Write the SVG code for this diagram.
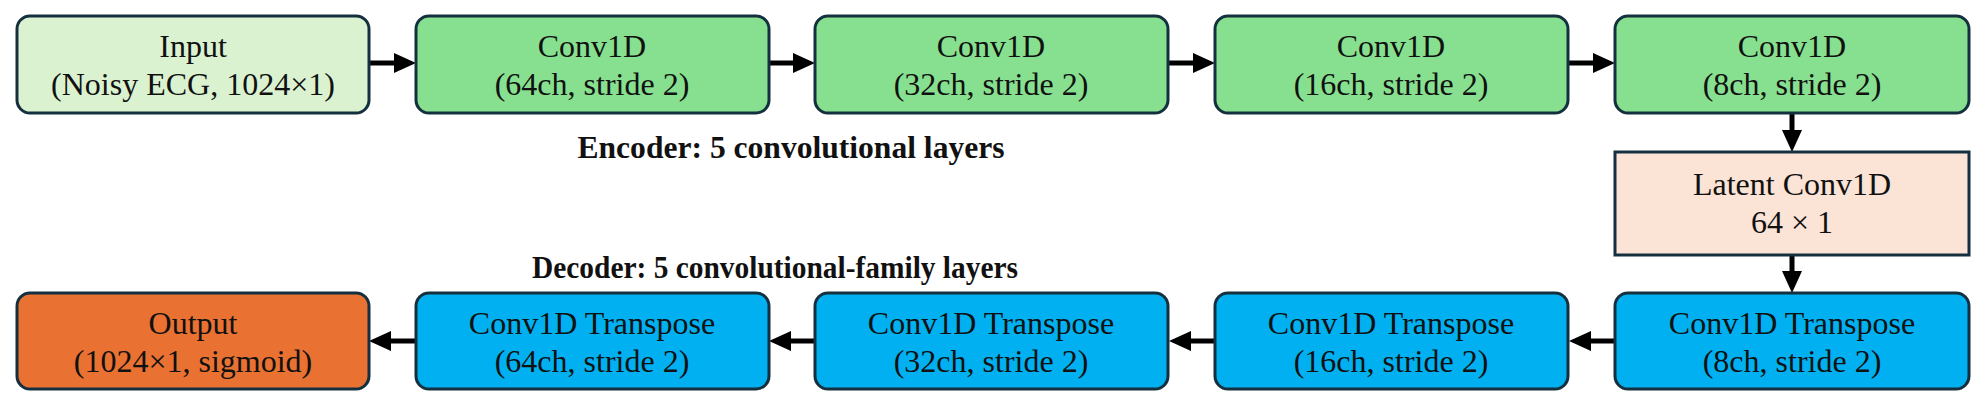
<svg xmlns="http://www.w3.org/2000/svg" width="1986" height="407" viewBox="0 0 1986 407">
<style>
.box{stroke:#14303f;stroke-width:3}
.t{font-family:"Liberation Serif","Times New Roman",serif;font-size:32px;fill:#111;text-anchor:middle}
.lbl{font-family:"Liberation Serif","Times New Roman",serif;font-size:32px;font-weight:bold;fill:#111;text-anchor:middle}
.in{fill:#DAF2D0}.enc{fill:#87E08F}.lat{fill:#FBE3D6}.dec{fill:#00B0F0}.out{fill:#E97132}
.c{stroke:#000;stroke-width:5;fill:none;marker-end:url(#ah)}
</style>
<defs>
<marker id="ah" markerUnits="userSpaceOnUse" markerWidth="22" markerHeight="20" refX="2" refY="10" orient="auto">
<path d="M0,0 L22,10 L0,20 Z" fill="#000"/>
</marker>
</defs>
<rect width="1986" height="407" fill="#fff"/>
<g id="connectors">
<line class="c" x1="369" y1="63" x2="396" y2="63"/>
<line class="c" x1="769" y1="63" x2="795" y2="63"/>
<line class="c" x1="1168" y1="63" x2="1195" y2="63"/>
<line class="c" x1="1568" y1="63" x2="1595" y2="63"/>
<line class="c" x1="1792" y1="113" x2="1792" y2="132"/>
<line class="c" x1="1792" y1="255" x2="1792" y2="273"/>
<line class="c" x1="1615" y1="341" x2="1589" y2="341"/>
<line class="c" x1="1215" y1="341" x2="1189" y2="341"/>
<line class="c" x1="815" y1="341" x2="789" y2="341"/>
<line class="c" x1="416" y1="341" x2="389" y2="341"/>
</g>
<g id="input">
<rect class="box in" x="17" y="16" width="352" height="97" rx="13"/>
<text class="t" x="193" y="57">Input</text>
<text class="t" x="193" y="95">(Noisy ECG, 1024×1)</text>
</g>
<g id="enc1">
<rect class="box enc" x="416" y="16" width="353" height="97" rx="13"/>
<text class="t" x="592" y="57">Conv1D</text>
<text class="t" x="592" y="95">(64ch, stride 2)</text>
</g>
<g id="enc2">
<rect class="box enc" x="815" y="16" width="353" height="97" rx="13"/>
<text class="t" x="991" y="57">Conv1D</text>
<text class="t" x="991" y="95">(32ch, stride 2)</text>
</g>
<g id="enc3">
<rect class="box enc" x="1215" y="16" width="353" height="97" rx="13"/>
<text class="t" x="1391" y="57">Conv1D</text>
<text class="t" x="1391" y="95">(16ch, stride 2)</text>
</g>
<g id="enc4">
<rect class="box enc" x="1615" y="16" width="354" height="97" rx="13"/>
<text class="t" x="1792" y="57">Conv1D</text>
<text class="t" x="1792" y="95">(8ch, stride 2)</text>
</g>
<g id="latent">
<rect class="box lat" x="1615" y="152" width="354" height="103"/>
<text class="t" x="1792" y="195">Latent Conv1D</text>
<text class="t" x="1792" y="233">64 × 1</text>
</g>
<g id="dec1">
<rect class="box dec" x="1615" y="293" width="354" height="96" rx="13"/>
<text class="t" x="1792" y="334">Conv1D Transpose</text>
<text class="t" x="1792" y="372">(8ch, stride 2)</text>
</g>
<g id="dec2">
<rect class="box dec" x="1215" y="293" width="353" height="96" rx="13"/>
<text class="t" x="1391" y="334">Conv1D Transpose</text>
<text class="t" x="1391" y="372">(16ch, stride 2)</text>
</g>
<g id="dec3">
<rect class="box dec" x="815" y="293" width="353" height="96" rx="13"/>
<text class="t" x="991" y="334">Conv1D Transpose</text>
<text class="t" x="991" y="372">(32ch, stride 2)</text>
</g>
<g id="dec4">
<rect class="box dec" x="416" y="293" width="353" height="96" rx="13"/>
<text class="t" x="592" y="334">Conv1D Transpose</text>
<text class="t" x="592" y="372">(64ch, stride 2)</text>
</g>
<g id="output">
<rect class="box out" x="17" y="293" width="352" height="96" rx="13"/>
<text class="t" x="193" y="334">Output</text>
<text class="t" x="193" y="372">(1024×1, sigmoid)</text>
</g>
<g id="labels">
<text class="lbl" x="791" y="158" textLength="427" lengthAdjust="spacingAndGlyphs">Encoder: 5 convolutional layers</text>
<text class="lbl" x="775" y="278" textLength="486" lengthAdjust="spacingAndGlyphs">Decoder: 5 convolutional-family layers</text>
</g>
</svg>
